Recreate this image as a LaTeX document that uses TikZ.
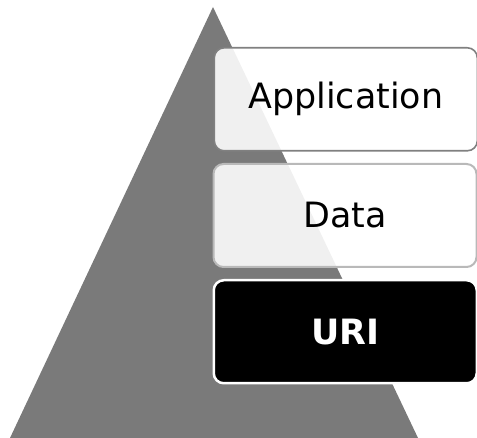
\documentclass[tikz,border=0pt]{standalone}
\usepackage{fontspec}
\setmainfont{DejaVu Sans}
\begin{document}
\begin{tikzpicture}[x=1bp,y=1bp,
  layer/.style={rectangle, rounded corners=10bp, minimum width=263bp, minimum height=103bp, anchor=north west, inner sep=0pt, font=\fontsize{35}{40}\selectfont},
  lightbox/.style={layer, fill=white, fill opacity=0.89, text opacity=1},
]
\useasboundingbox (0,0) rectangle (477,438);
\fill[fill={rgb,255:red,122;green,122;blue,122}] (10,0) -- (213,431) -- (418,0) -- cycle;
\node[lightbox, draw={rgb,255:red,128;green,128;blue,128}, line width=1.6bp] (app) at (213.5,391) {Application};
\node[lightbox, draw={rgb,255:red,185;green,185;blue,185}, line width=2bp] (data) at (212.5,275) {Data};
\node[layer, fill=black, draw=white, line width=2.5bp, text=white, font=\fontsize{35}{40}\selectfont\bfseries] (uri) at (212.5,159) {URI};
\end{tikzpicture}
\end{document}
